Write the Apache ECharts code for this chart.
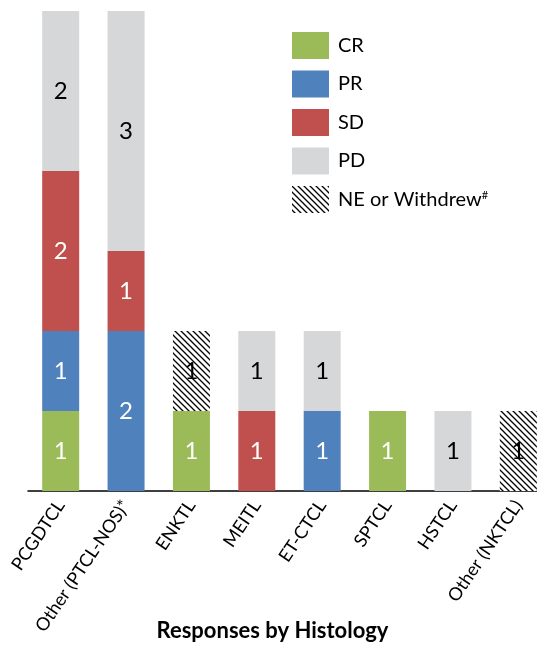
<!DOCTYPE html>
<html lang="en">
<head>
    <meta charset="UTF-8"/>
    <title>Responses by Histology</title>
    <script src="https://cdn.jsdelivr.net/npm/echarts@6/dist/echarts.min.js"></script>
    <style>
        html, body { margin: 0; padding: 0; background: #fff; }
    </style>
</head>
<body>
<div id="main" style="width: 537px;height: 647px;"></div>
<script type="text/javascript">
    var categories = ['PCGDTCL', 'Other (PTCL-NOS)*', 'ENKTL', 'MEITL', 'ET-CTCL', 'SPTCL', 'HSTCL', 'Other (NKTCL)'];
    var crValues = [1, 0, 1, 0, 0, 1, 0, 0];
    var prValues = [1, 2, 0, 0, 1, 0, 0, 0];
    var sdValues = [2, 1, 0, 1, 0, 0, 0, 0];
    var pdValues = [2, 3, 0, 1, 1, 0, 1, 0];
    var neValues = [0, 0, 1, 0, 0, 0, 0, 1];
    var seriesNames = ['CR', 'PR', 'SD', 'PD', 'NE or Withdrew#'];

    // hatched fill for NE / withdrew
    var hatch = document.createElement('canvas');
    hatch.width = 6;
    hatch.height = 6;
    var hc = hatch.getContext('2d');
    hc.fillStyle = '#fff';
    hc.fillRect(0, 0, 6, 6);
    hc.strokeStyle = '#000';
    hc.lineWidth = 1.3;
    hc.beginPath();
    hc.moveTo(-1, -1); hc.lineTo(7, 7);
    hc.moveTo(-4, 2); hc.lineTo(4, 10);
    hc.moveTo(2, -4); hc.lineTo(10, 4);
    hc.stroke();

    var colors = ['#9BBB59', '#4F81BD', '#C0504D', '#D6D7D9', {image: hatch, repeat: 'repeat'}];
    var labelColors = ['#fff', '#fff', '#fff', '#000', '#000'];
    var allValues = [crValues, prValues, sdValues, pdValues, neValues];

    var myChart = echarts.init(document.getElementById('main'));

    var series = allValues.map(function (vals, i) {
        return {
            name: seriesNames[i],
            type: 'bar',
            stack: 'total',
            barWidth: 37,
            data: vals,
            itemStyle: {color: colors[i]},
            label: {
                show: true,
                position: 'inside',
                color: labelColors[i],
                fontSize: 24,
                fontFamily: 'Lato',
                formatter: function (p) { return p.value ? p.value : ''; }
            }
        };
    });

    myChart.setOption({
        animation: false,
        // keep grid where it is even though labels run to the edge
        grid: {left: 28, width: 523, top: 11, height: 480, outerBoundsMode: 'none'},
        legend: {
            orient: 'vertical',
            left: 287,
            top: 27,
            itemWidth: 37,
            itemHeight: 27,
            itemGap: 11.5,
            icon: 'rect',
            data: seriesNames,
            formatter: function (name) {
                return name === 'NE or Withdrew#' ? 'NE or Withdrew{sup|#}' : name;
            },
            textStyle: {
                fontSize: 20,
                fontFamily: 'Lato',
                color: '#000',
                padding: [0, 0, 0, 4],
                rich: {sup: {fontSize: 11, fontFamily: 'Lato', color: '#000', verticalAlign: 'top', padding: [0, 0, 9, 0]}}
            }
        },
        xAxis: {
            type: 'category',
            data: categories,
            name: 'Responses by Histology',
            nameLocation: 'middle',
            nameGap: 129,
            nameMoveOverlap: false,
            nameTextStyle: {fontSize: 22, fontWeight: 'bold', fontFamily: 'Lato', color: '#000', padding: [0, 34, 0, 0]},
            axisLine: {lineStyle: {color: '#000', width: 1.5}},
            axisTick: {show: false},
            axisLabel: {rotate: 56, fontSize: 18, fontFamily: 'Lato', color: '#000', interval: 0, margin: 11}
        },
        yAxis: {
            type: 'value',
            min: 0,
            max: 6,
            interval: 1,
            show: false
        },
        series: series
    });
</script>
</body>
</html>
